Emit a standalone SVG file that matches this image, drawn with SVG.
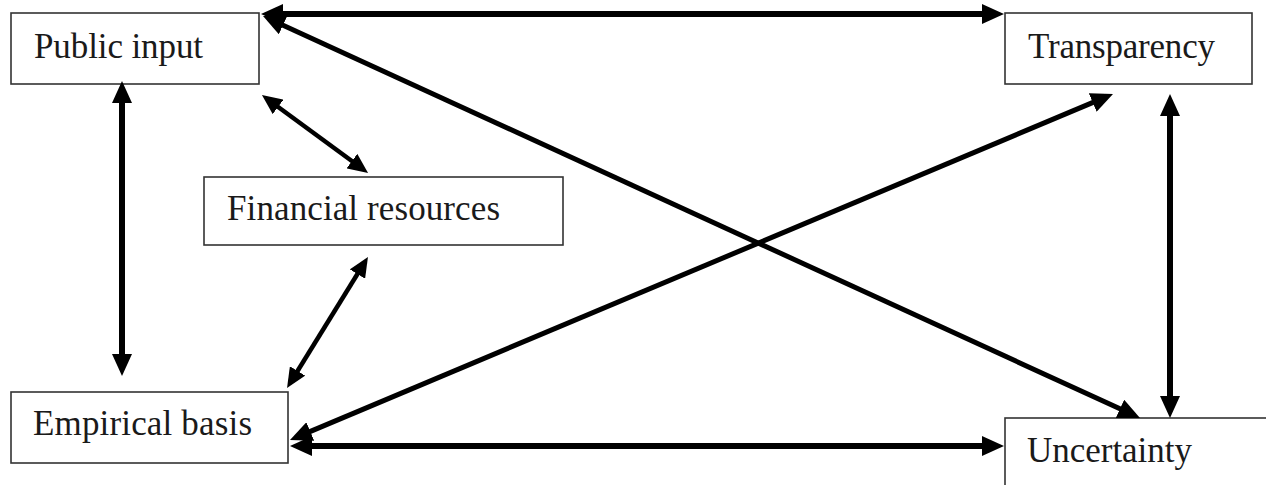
<svg xmlns="http://www.w3.org/2000/svg" width="1266" height="485" viewBox="0 0 1266 485">
<style>
.box{fill:#fff;stroke:#333;stroke-width:1.6}
.lbl{font-family:"Liberation Serif","Times New Roman",serif;font-size:35px;fill:#1a1a1a}
.c{stroke:#000;fill:none}
.w6{stroke-width:6}
.w5{stroke-width:5}
.w4{stroke-width:4.5}
</style>
<defs>
<marker id="big" markerUnits="userSpaceOnUse" markerWidth="22" markerHeight="20" refX="12" refY="10" orient="auto-start-reverse" viewBox="0 0 22 20">
<path d="M0,0 L22,10 L0,20 z" fill="#000"/>
</marker>
<marker id="sm" markerUnits="userSpaceOnUse" markerWidth="20" markerHeight="18" refX="10" refY="9" orient="auto-start-reverse" viewBox="0 0 20 18">
<path d="M0,0 L20,9 L0,18 z" fill="#000"/>
</marker>
</defs>
<rect width="1266" height="485" fill="#fff"/>
<g id="public-input">
<rect class="box" x="11" y="13" width="248" height="71"/>
<text class="lbl" x="34" y="58" textLength="169">Public input</text>
</g>
<g id="transparency">
<rect class="box" x="1005" y="13" width="247" height="71"/>
<text class="lbl" x="1028" y="58" textLength="187">Transparency</text>
</g>
<g id="financial-resources">
<rect class="box" x="204" y="177" width="359" height="68"/>
<text class="lbl" x="227" y="220" textLength="273">Financial resources</text>
</g>
<g id="empirical-basis">
<rect class="box" x="11" y="392" width="277" height="71"/>
<text class="lbl" x="33" y="435" textLength="219">Empirical basis</text>
</g>
<g id="uncertainty">
<rect class="box" x="1005" y="418" width="270" height="80"/>
<text class="lbl" x="1027" y="462" textLength="165">Uncertainty</text>
</g>
<g id="connectors">
<line class="c w6" x1="271" y1="14" x2="994" y2="14" marker-start="url(#big)" marker-end="url(#big)"/>
<line class="c w5" x1="272.1" y1="20.2" x2="1130.9" y2="413.8" marker-start="url(#big)" marker-end="url(#big)"/>
<line class="c w6" x1="122" y1="91" x2="122" y2="366" marker-start="url(#big)" marker-end="url(#big)"/>
<line class="c w4" x1="270" y1="101" x2="360" y2="167" marker-start="url(#sm)" marker-end="url(#sm)"/>
<line class="c w4" x1="362.7" y1="265.5" x2="292.3" y2="379.5" marker-start="url(#sm)" marker-end="url(#sm)"/>
<line class="c w5" x1="299.2" y1="436.1" x2="1103.8" y2="97.9" marker-start="url(#big)" marker-end="url(#big)"/>
<line class="c w6" x1="300" y1="446" x2="994" y2="446" marker-start="url(#big)" marker-end="url(#big)"/>
<line class="c w6" x1="1170" y1="104" x2="1170" y2="408" marker-start="url(#big)" marker-end="url(#big)"/>
</g>
</svg>
